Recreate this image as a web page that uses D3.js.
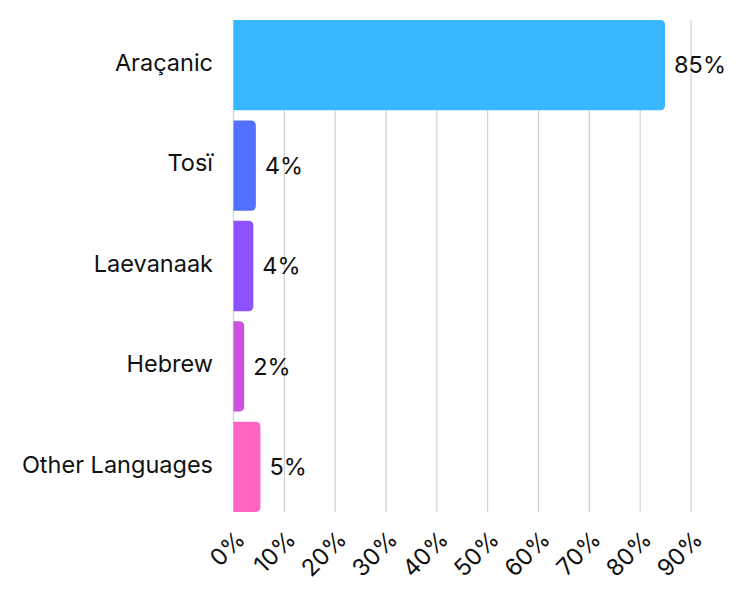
<!DOCTYPE html>
<html><head><meta charset="utf-8">
<script src="https://cdn.jsdelivr.net/npm/d3@7"></script>
<style>body{margin:0;background:#fff}svg{display:block}text{font-family:"Inter","Lato",sans-serif;fill:#111}</style>
</head><body>
<svg id="c" width="743" height="600"></svg>
<script>
const categories = ["Araçanic","Tosï","Laevanaak","Hebrew","Other Languages"];
const values = [84.9, 4.4, 3.9, 2.1, 5.3];
const colors = ["#38b6ff","#5271ff","#8c52ff","#cd52e0","#ff66c4"];
const ticks = [0,10,20,30,40,50,60,70,80,90];

const svg = d3.select("#c");
const x = d3.scaleLinear().domain([0,90]).range([233.5,691]);
const y = d3.scaleBand().domain(categories).range([20,512]).paddingInner(0.1).paddingOuter(0);
const fs = 23.5;

// grid
svg.append("g").selectAll("line").data(ticks).join("line")
  .attr("x1",d=>x(d)).attr("x2",d=>x(d)).attr("y1",20).attr("y2",512)
  .attr("stroke","#d0d0d0").attr("stroke-width",1.2);

// bars with right-rounded corners
const r = 5;
svg.append("g").selectAll("path").data(categories).join("path")
  .attr("fill",(d,i)=>colors[i])
  .attr("d",(d,i)=>{
    const x0=x(0), x1=x(values[i]), y0=y(d), h=y.bandwidth();
    const rr=Math.min(r,(x1-x0));
    return `M${x0},${y0}H${x1-rr}Q${x1},${y0} ${x1},${y0+rr}V${y0+h-rr}Q${x1},${y0+h} ${x1-rr},${y0+h}H${x0}Z`;
  });

// value labels
svg.append("g").selectAll("text").data(categories).join("text")
  .attr("x",(d,i)=>x(values[i])+9).attr("y",d=>y(d)+y.bandwidth()/2)
  .attr("dy","0.35em").attr("font-size",fs)
  .text((d,i)=>Math.round(values[i])+"%");

// category labels
svg.append("g").selectAll("text").data(categories).join("text")
  .attr("x",213).attr("y",d=>y(d)+y.bandwidth()/2-2.5)
  .attr("dy","0.35em").attr("text-anchor","end").attr("font-size",fs)
  .text(d=>d);

// x tick labels rotated
svg.append("g").selectAll("text").data(ticks).join("text")
  .attr("text-anchor","end").attr("font-size",fs)
  .attr("transform",d=>`translate(${x(d)+13},${541}) rotate(-45)`)
  .text(d=>d+"%");
</script>
</body></html>
